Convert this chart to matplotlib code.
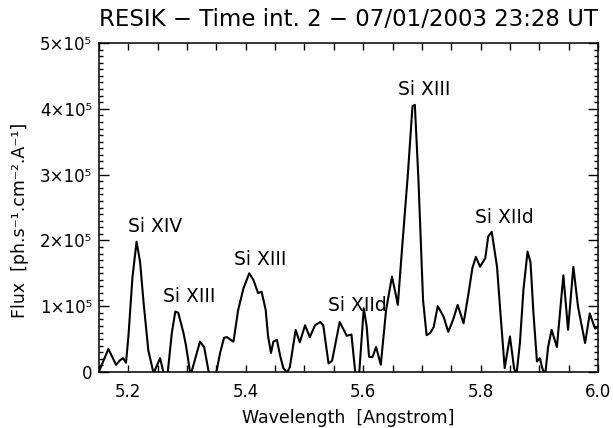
import numpy as np
import matplotlib
matplotlib.use('Agg')
from matplotlib import pyplot as plt
from matplotlib.ticker import MultipleLocator

# spectrum: wavelength [A], flux [1e5 ph/s/cm2/A]
wave = [5.151, 5.166, 5.179, 5.186, 5.191, 5.196, 5.200, 5.207, 5.214, 5.220,
        5.226, 5.234, 5.243, 5.254, 5.261, 5.266, 5.274, 5.280, 5.285, 5.294,
        5.298, 5.306, 5.322, 5.329, 5.338, 5.343, 5.349, 5.356, 5.363, 5.368,
        5.379, 5.387, 5.396, 5.406, 5.413, 5.421, 5.427, 5.434, 5.438, 5.443,
        5.447, 5.453, 5.459, 5.464, 5.470, 5.475, 5.485, 5.492, 5.501, 5.509,
        5.518, 5.527, 5.532, 5.541, 5.547, 5.560, 5.572, 5.580, 5.587, 5.590,
        5.593, 5.601, 5.606, 5.610, 5.616, 5.622, 5.630, 5.639, 5.649, 5.655,
        5.659, 5.666, 5.676, 5.684, 5.688, 5.694, 5.702, 5.708, 5.714, 5.720,
        5.727, 5.737, 5.745, 5.753, 5.761, 5.771, 5.779, 5.786, 5.792, 5.799,
        5.808, 5.813, 5.819, 5.828, 5.833, 5.841, 5.850, 5.857, 5.861, 5.867,
        5.873, 5.880, 5.885, 5.890, 5.896, 5.901, 5.905, 5.910, 5.915, 5.921,
        5.930, 5.941, 5.949, 5.958, 5.966, 5.978, 5.986, 5.995, 6.000]
flux = [0.03, 0.35, 0.11, 0.18, 0.21, 0.14, 0.53, 1.44, 1.98, 1.67,
        1.05, 0.33, -0.02, 0.21, -0.05, -0.10, 0.59, 0.92, 0.90, 0.59,
        0.41, -0.05, 0.46, 0.38, -0.05, -0.15, -0.05, 0.28, 0.52, 0.53,
        0.46, 0.94, 1.27, 1.50, 1.40, 1.20, 1.22, 0.94, 0.54, 0.29,
        0.46, 0.49, 0.23, 0.06, -0.01, 0.07, 0.64, 0.45, 0.71, 0.53,
        0.71, 0.76, 0.71, 0.13, 0.17, 0.76, 0.55, 0.57, -0.05, -0.15,
        -0.05, 0.97, 0.69, 0.23, 0.23, 0.38, 0.11, 0.94, 1.45, 1.20,
        1.02, 1.85, 2.99, 4.04, 4.06, 2.95, 1.09, 0.56, 0.59, 0.68,
        1.00, 0.84, 0.61, 0.79, 1.02, 0.74, 1.17, 1.58, 1.75, 1.60,
        1.73, 2.06, 2.13, 1.60, 0.99, 0.06, 0.54, 0.06, -0.05, 0.44,
        1.25, 1.83, 1.67, 0.90, 0.16, 0.21, 0.06, -0.05, 0.38, 0.64,
        0.38, 1.47, 0.64, 1.60, 0.99, 0.44, 0.89, 0.66, 0.68]

# line identifications: text, wavelength of left edge, flux of baseline
line_names = ['Si XIV', 'Si XIII', 'Si XIII', 'Si XIId', 'Si XIII', 'Si XIId']
line_wave = [5.200, 5.259, 5.380, 5.540, 5.659, 5.790]
line_flux = [2.13, 1.06, 1.63, 0.93, 4.21, 2.26]

yticks = [0, 1e5, 2e5, 3e5, 4e5, 5e5]
ytick_labels = ['0', '1×10⁵', '2×10⁵', '3×10⁵', '4×10⁵', '5×10⁵']
xticks = [5.2, 5.4, 5.6, 5.8, 6.0]
xtick_labels = ['5.2', '5.4', '5.6', '5.8', '6.0']

plt.rcParams['font.family'] = ['DejaVu Sans']

fig = plt.figure(figsize=(6.13, 4.28), dpi=100)
ax = fig.add_axes([99 / 613, 56 / 428, 499 / 613, 329 / 428])

ax.plot(wave, np.array(flux) * 1e5, color='black', lw=1.5)

for name, w, f in zip(line_names, line_wave, line_flux):
    ax.text(w, f * 1e5, name, ha='left', va='baseline', fontsize=13.5)

ax.set_xlim(5.15, 6.0)
ax.set_ylim(0, 5e5)
ax.set_xticks(xticks)
ax.set_xticklabels(xtick_labels)
ax.set_yticks(yticks)
ax.set_yticklabels(ytick_labels)
ax.xaxis.set_minor_locator(MultipleLocator(0.05))
ax.yaxis.set_minor_locator(MultipleLocator(1e4))

ax.tick_params(which='both', direction='in', top=True, right=True,
               width=1, labelsize=12, colors='black')
ax.tick_params(axis='x', which='both', length=5, pad=8)
ax.tick_params(axis='y', which='major', length=7, pad=5)
ax.tick_params(axis='y', which='minor', length=3)
for s in ax.spines.values():
    s.set_linewidth(1.1)

ax.set_title('RESIK − Time int. 2 − 07/01/2003 23:28 UT', fontsize=16.5, pad=12)
fig.text(348.5 / 613, 1 - 418 / 428, 'Wavelength  [Angstrom]',
         ha='center', va='center', fontsize=12.5)
fig.text(20 / 613, 1 - 220 / 428, 'Flux  [ph.s⁻¹.cm⁻².A⁻¹]',
         ha='center', va='center', rotation=90, fontsize=12.5)

fig.savefig('out.png', dpi=100, facecolor='white')
